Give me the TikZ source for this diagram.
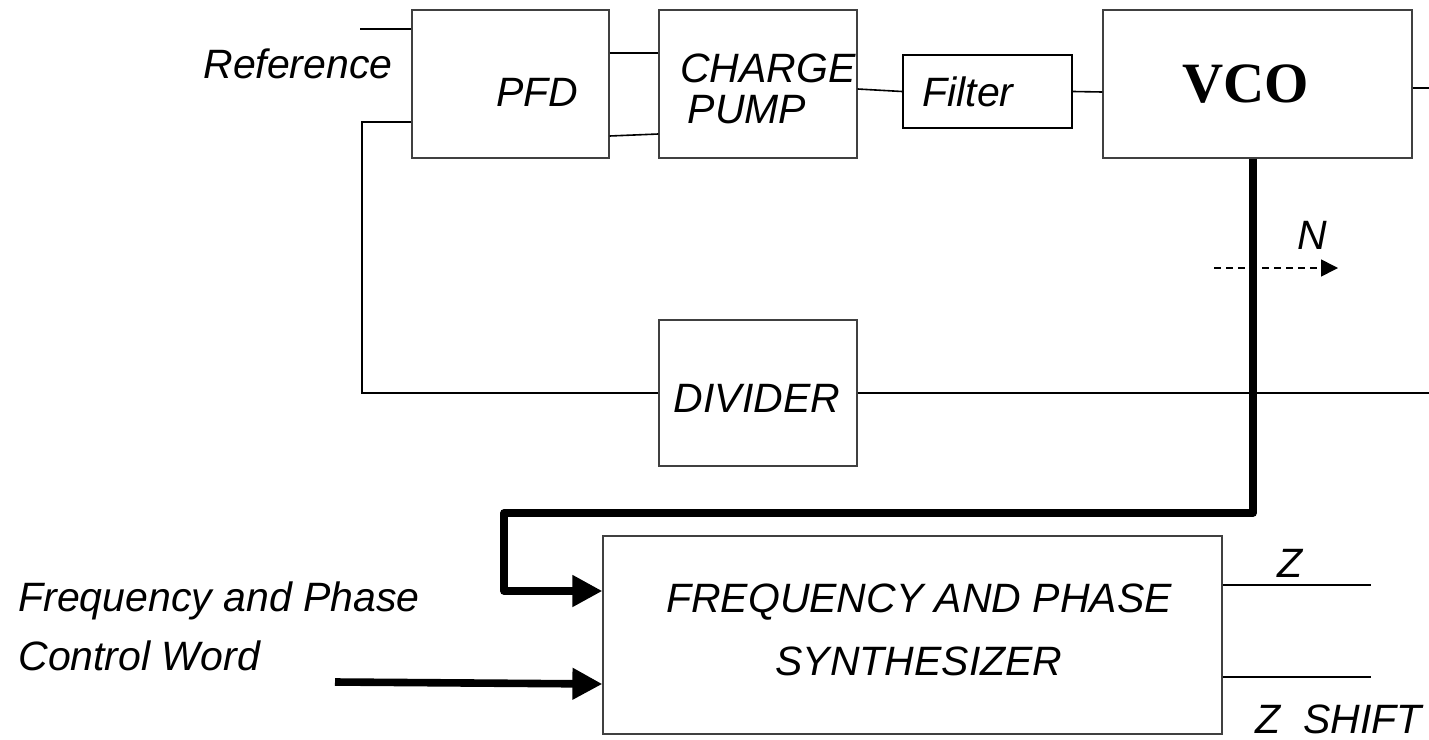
\documentclass[tikz,border=0pt]{standalone}
\usepackage{fontspec}
\setmainfont{Liberation Sans}
\newfontfamily\vcofont{Liberation Serif}
\usetikzlibrary{arrows.meta,calc,positioning}
\tikzset{
  blk/.style={draw=black!75,line width=.6pt,inner sep=0pt},
  wire/.style={line width=.8pt},
  bus/.style={line width=3.8pt,line join=round,-{Triangle[length=15pt,width=15pt]}},
  lbl/.style={font=\fontsize{20.5}{20.5}\selectfont\itshape,inner sep=0pt}
}

\begin{document}
\begin{tikzpicture}[x=.5pt,y=-.5pt]
\useasboundingbox (0,0) rectangle (1429,739);
% blocks
\node[blk,minimum width=98.5pt,minimum height=74pt] (pfd) at (510.5,84){};
\node[blk,minimum width=99pt,minimum height=74pt] (cp) at (758,84){};
\node[blk,minimum width=84.5pt,minimum height=36.5pt,line width=1pt,draw=black] (filt) at (987.5,91.5){};
\node[blk,minimum width=154.5pt,minimum height=74pt] (vco) at (1257.5,84){};
\node[blk,minimum width=99pt,minimum height=73pt] (div) at (758,393){};
\node[blk,minimum width=309.5pt,minimum height=99pt] (syn) at (912.5,635){};
% texts
\node[lbl,anchor=base west] (reftxt) at (203,78){Reference};
\node[lbl,anchor=base] (pfdtxt) at (537,106){PFD};
\node[lbl,anchor=base] (chgtxt) at (768,82){CHARGE};
\node[lbl,anchor=base] (pmptxt) at (747,123){PUMP};
\node[lbl,anchor=base west] (filttxt) at (922,106){Filter};
\node[inner sep=0pt,anchor=base,font=\vcofont\bfseries\fontsize{28.5}{28.5}\selectfont] (vcotxt) at (1246,102){VCO};
\node[lbl,anchor=base] (divtxt) at (757,412){DIVIDER};
\node[lbl,anchor=base] (ntxt) at (1312,249){N};
\node[lbl,anchor=base] (syntxt1) at (919,612){FREQUENCY AND PHASE};
\node[lbl,anchor=base] (syntxt2) at (919,675){SYNTHESIZER};
\node[lbl,anchor=base] (ztxt) at (1290,577){Z};
\node[lbl,anchor=base west] (zstxt) at (1255,733){Z\ \ SHIFT};
\node[lbl,anchor=base west] (fpcw1) at (18,611){Frequency and Phase};
\node[lbl,anchor=base west] (fpcw2) at (18,670){Control Word};
% free ends
\coordinate (refin) at (360,29);
\coordinate (fb) at (362,122);
\coordinate (divout) at (1429,393);
\coordinate (vcoout) at (1429,88);
\coordinate (tap) at (1253,513);
\coordinate (bend) at (504,513);
\coordinate (busin) at (504,591);
\coordinate (cw) at (335,682);
\coordinate (nfrom) at (1214,268);
\coordinate (nto) at (1338,268);
\coordinate (zout) at (1371,585);
\coordinate (zsout) at (1371,677);
% thin wires
\draw[wire] (refin) -- (pfd.west |- refin);
\draw[wire] (pfd.west |- fb) -- (fb) |- (div.west);
\draw[wire] (div.east) -- (divout);
\draw[wire] ([yshift=15.5pt]pfd.east) -- ([yshift=15.5pt]cp.west);
\draw[wire] ([yshift=-26pt]pfd.east) -- ([yshift=-25pt]cp.west);
\draw[wire] ([yshift=-2.5pt]cp.east) -- (filt.west);
\draw[wire] (filt.east) -- ([yshift=-4pt]vco.west);
\draw[wire] ([yshift=-2pt]vco.east) -- (vcoout);
\draw[wire] (syn.east |- zout) -- (zout);
\draw[wire] (syn.east |- zsout) -- (zsout);
% thick buses
\draw[bus] (vco.south -| tap) -- (tap) -- (bend) -- (busin) -- (syn.west |- busin);
\draw[bus] (cw) -- ([yshift=-24.5pt]syn.west);
\draw[wire,dash pattern=on 3.5pt off 2.5pt,-{Triangle[length=8.5pt,width=8.5pt]}] (nfrom) -- (nto);
\end{tikzpicture}
\end{document}
